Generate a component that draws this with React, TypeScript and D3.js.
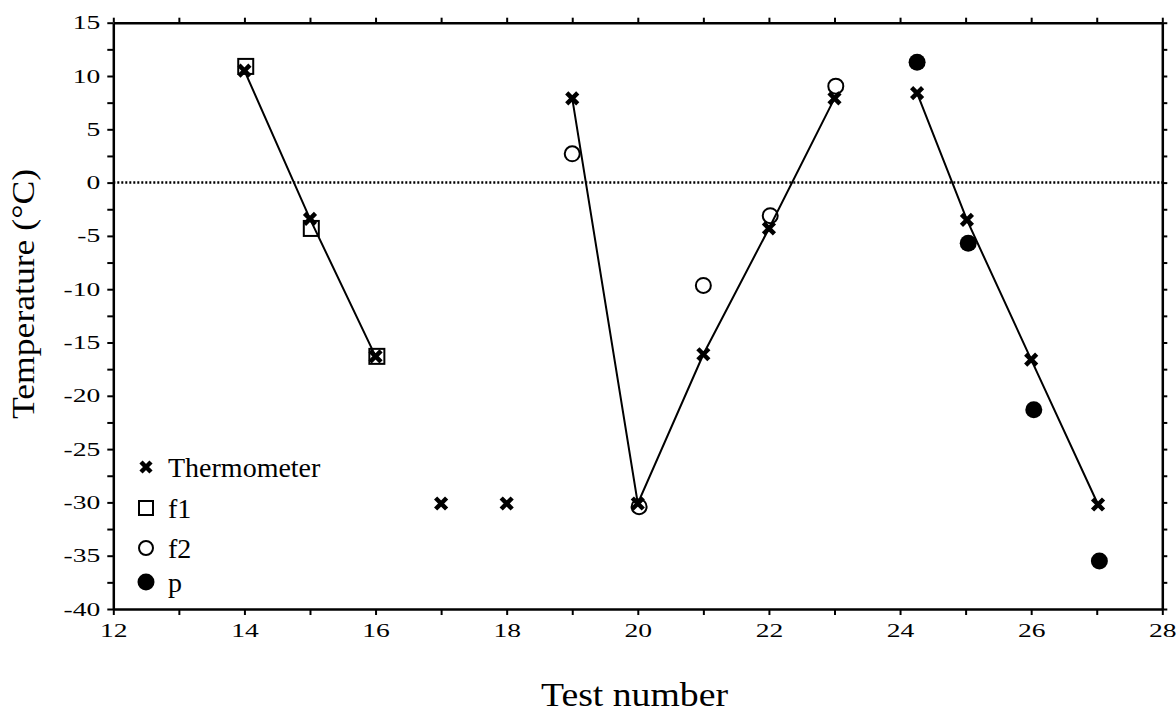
import * as d3 from 'd3';
import { useEffect, useRef } from 'react';

// thermometer readings (x = test number)
const thermoX = [14, 15, 16, 17, 18, 19, 20, 21, 22, 23, 24.26, 25.02, 26, 27.02];
const thermoY = [10.5, -3.4, -16.3, -30.1, -30.1, 7.9, -30.1, -16.1, -4.3, 7.9, 8.4, -3.5, -16.6, -30.2];
// index ranges of thermometer points joined by a line
const thermoRuns = [[0, 3], [5, 10], [10, 14]];

const f1X = [14.02, 15.02, 16.02];
const f1Y = [10.9, -4.3, -16.3];

const f2X = [19, 20.02, 21, 22.02, 23.02];
const f2Y = [2.7, -30.4, -9.65, -3.1, 9.05];

const pX = [24.26, 25.04, 26.04, 27.04];
const pY = [11.3, -5.7, -21.3, -35.5];

const xTicks = d3.range(12, 29, 1);
const xLabels = [12, 14, 16, 18, 20, 22, 24, 26, 28];
const yTicks = d3.range(-40, 15.1, 2.5);
const yLabels = [-40, -35, -30, -25, -20, -15, -10, -5, 0, 5, 10, 15];
const legendNames = ['Thermometer', 'f1', 'f2', 'p'];

const W = 1176;
const H = 721;
const FONT = '"Liberation Serif", "Times New Roman", serif';

export default function App() {
    const ref = useRef<SVGSVGElement>(null);

    useEffect(() => {
        if (!ref.current) return;
        const svg = d3.select(ref.current);
        svg.selectAll('*').remove();

        const left = 113.3, right = 1162.3, top = 22.7, bottom = 609;
        const x = d3.scaleLinear().domain([12, 28]).range([left, right]);
        const y = d3.scaleLinear().domain([-40, 15]).range([bottom, top]);

        // zero reference line
        svg.append('line')
            .attr('x1', left).attr('x2', right)
            .attr('y1', y(0)).attr('y2', y(0))
            .attr('stroke', '#000').attr('stroke-width', 2.5)
            .attr('stroke-dasharray', '2,2');

        const styleAxis = (g) => {
            g.attr('font-family', FONT).attr('font-size', 19);
            g.select('.domain').attr('stroke-width', 2.5);
            g.selectAll('.tick line').attr('stroke-width', 2);
            g.selectAll('text').attr('fill', '#000').each(function () {
                const t = this as SVGTextElement;
                if (!t.textContent) return;
                const w = t.getComputedTextLength();
                d3.select(t).attr('textLength', w * 1.45).attr('lengthAdjust', 'spacingAndGlyphs');
            });
        };

        svg.append('g')
            .attr('transform', `translate(0,${bottom})`)
            .call(d3.axisBottom(x).tickValues(xTicks).tickSize(6).tickSizeOuter(0)
                .tickPadding(9)
                .tickFormat(d => xLabels.includes(d as number) ? String(d) : ''))
            .call(styleAxis);

        svg.append('g')
            .attr('transform', `translate(0,${top})`)
            .call(d3.axisTop(x).tickValues(xTicks).tickSize(5).tickSizeOuter(0).tickFormat(() => ''))
            .call(styleAxis);

        svg.append('g')
            .attr('transform', `translate(${left},0)`)
            .call(d3.axisLeft(y).tickValues(yTicks).tickSize(6).tickSizeOuter(0)
                .tickPadding(7)
                .tickFormat(d => yLabels.includes(d as number) ? String(d) : ''))
            .call(styleAxis);

        svg.append('g')
            .attr('transform', `translate(${right},0)`)
            .call(d3.axisRight(y).tickValues(yTicks).tickSize(5).tickSizeOuter(0).tickFormat(() => ''))
            .call(styleAxis);

        // thermometer lines
        const line = d3.line<number>().x(i => x(thermoX[i])).y(i => y(thermoY[i]));
        thermoRuns.forEach(([a, b]) => {
            svg.append('path')
                .attr('d', line(d3.range(a, b)))
                .attr('fill', 'none').attr('stroke', '#000').attr('stroke-width', 2);
        });

        const cross = (g, cx, cy, s) => {
            g.append('path')
                .attr('d', `M${cx - s},${cy - s}L${cx + s},${cy + s}M${cx - s},${cy + s}L${cx + s},${cy - s}`)
                .attr('stroke', '#000').attr('stroke-width', 4.5).attr('fill', 'none');
        };
        const square = (g, cx, cy, s) => {
            g.append('rect').attr('x', cx - s).attr('y', cy - s).attr('width', 2 * s).attr('height', 2 * s)
                .attr('fill', 'none').attr('stroke', '#000').attr('stroke-width', 2);
        };
        const ring = (g, cx, cy, r) => {
            g.append('circle').attr('cx', cx).attr('cy', cy).attr('r', r)
                .attr('fill', 'none').attr('stroke', '#000').attr('stroke-width', 2);
        };
        const dot = (g, cx, cy, r) => {
            g.append('circle').attr('cx', cx).attr('cy', cy).attr('r', r).attr('fill', '#000');
        };

        const marks = svg.append('g');
        f1X.forEach((v, i) => square(marks, x(v), y(f1Y[i]), 7.5));
        f2X.forEach((v, i) => ring(marks, x(v), y(f2Y[i]), 7.5));
        pX.forEach((v, i) => dot(marks, x(v), y(pY[i]), 8.5));
        thermoX.forEach((v, i) => cross(marks, x(v), y(thermoY[i]), 5.5));

        // legend
        const lg = svg.append('g');
        const rows = [467, 508, 548, 582];
        cross(lg, 146, rows[0], 5);
        square(lg, 146, rows[1], 7);
        ring(lg, 146, rows[2], 7);
        dot(lg, 146, rows[3], 8.5);
        legendNames.forEach((n, i) => {
            lg.append('text').attr('x', 168).attr('y', rows[i]).attr('dy', '0.35em')
                .attr('font-family', FONT).attr('font-size', 28).text(n);
        });

        // axis titles
        svg.append('text')
            .attr('x', 634.5).attr('y', 706)
            .attr('text-anchor', 'middle')
            .attr('font-family', FONT).attr('font-size', 33)
            .attr('textLength', 187).attr('lengthAdjust', 'spacingAndGlyphs')
            .text('Test number');
        svg.append('text')
            .attr('transform', `translate(34,294) rotate(-90)`)
            .attr('text-anchor', 'middle')
            .attr('font-family', FONT).attr('font-size', 31)
            .attr('textLength', 250).attr('lengthAdjust', 'spacingAndGlyphs')
            .text('Temperature (°C)');
    }, []);

    return (
        <svg ref={ref} width={W} height={H}
            style={{ position: 'absolute', left: 0, top: 0, background: '#fff' }} />
    );
}
